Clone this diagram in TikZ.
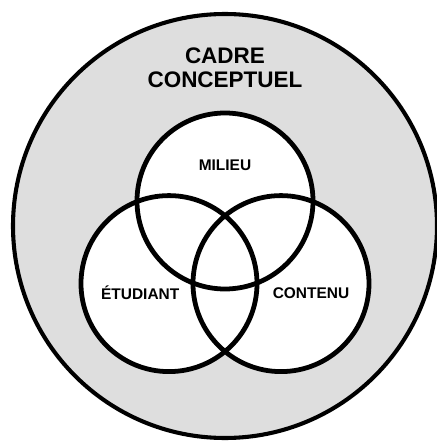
\documentclass[tikz,border=0pt]{standalone}
\usepackage{fontspec}
\setmainfont{Liberation Sans}
\usepackage{tikz}
\usetikzlibrary{positioning}

\begin{document}
\begin{tikzpicture}[
    frame/.style={circle, draw, line width=2.9pt, fill=black!13, minimum size=10.6cm},
    venn/.style={circle, minimum size=4.4cm},
    vennline/.style={circle, draw, line width=3.4pt, minimum size=4.4cm},
    title/.style={font=\fontsize{16}{17.5}\selectfont\bfseries, align=center},
    setlabel/.style={font=\fontsize{11}{12}\selectfont\bfseries},
]
\useasboundingbox (-5.625,-5.4) rectangle (5.275,5.65);

% outer frame
\node[frame] (cadre) at (0,0) {};
\node[title] (cadretxt) at (0,3.96) {CADRE\\CONCEPTUEL};

% white discs first, outlines on top
\node[venn, fill=white] (milieu) at (0,0.625) {};
\node[venn, fill=white] (etudiant) at (-1.4,-1.44) {};
\node[venn, fill=white] (contenu) at (1.4,-1.44) {};
\node[vennline] at (milieu) {};
\node[vennline] at (etudiant) {};
\node[vennline] at (contenu) {};

% labels
\node[setlabel] (milieutxt) at (0,1.525) {MILIEU};
\node[setlabel] (etudianttxt) at (-2.12,-1.67) {ÉTUDIANT};
\node[setlabel] (contenutxt) at (2.15,-1.67) {CONTENU};

\end{tikzpicture}
\end{document}
